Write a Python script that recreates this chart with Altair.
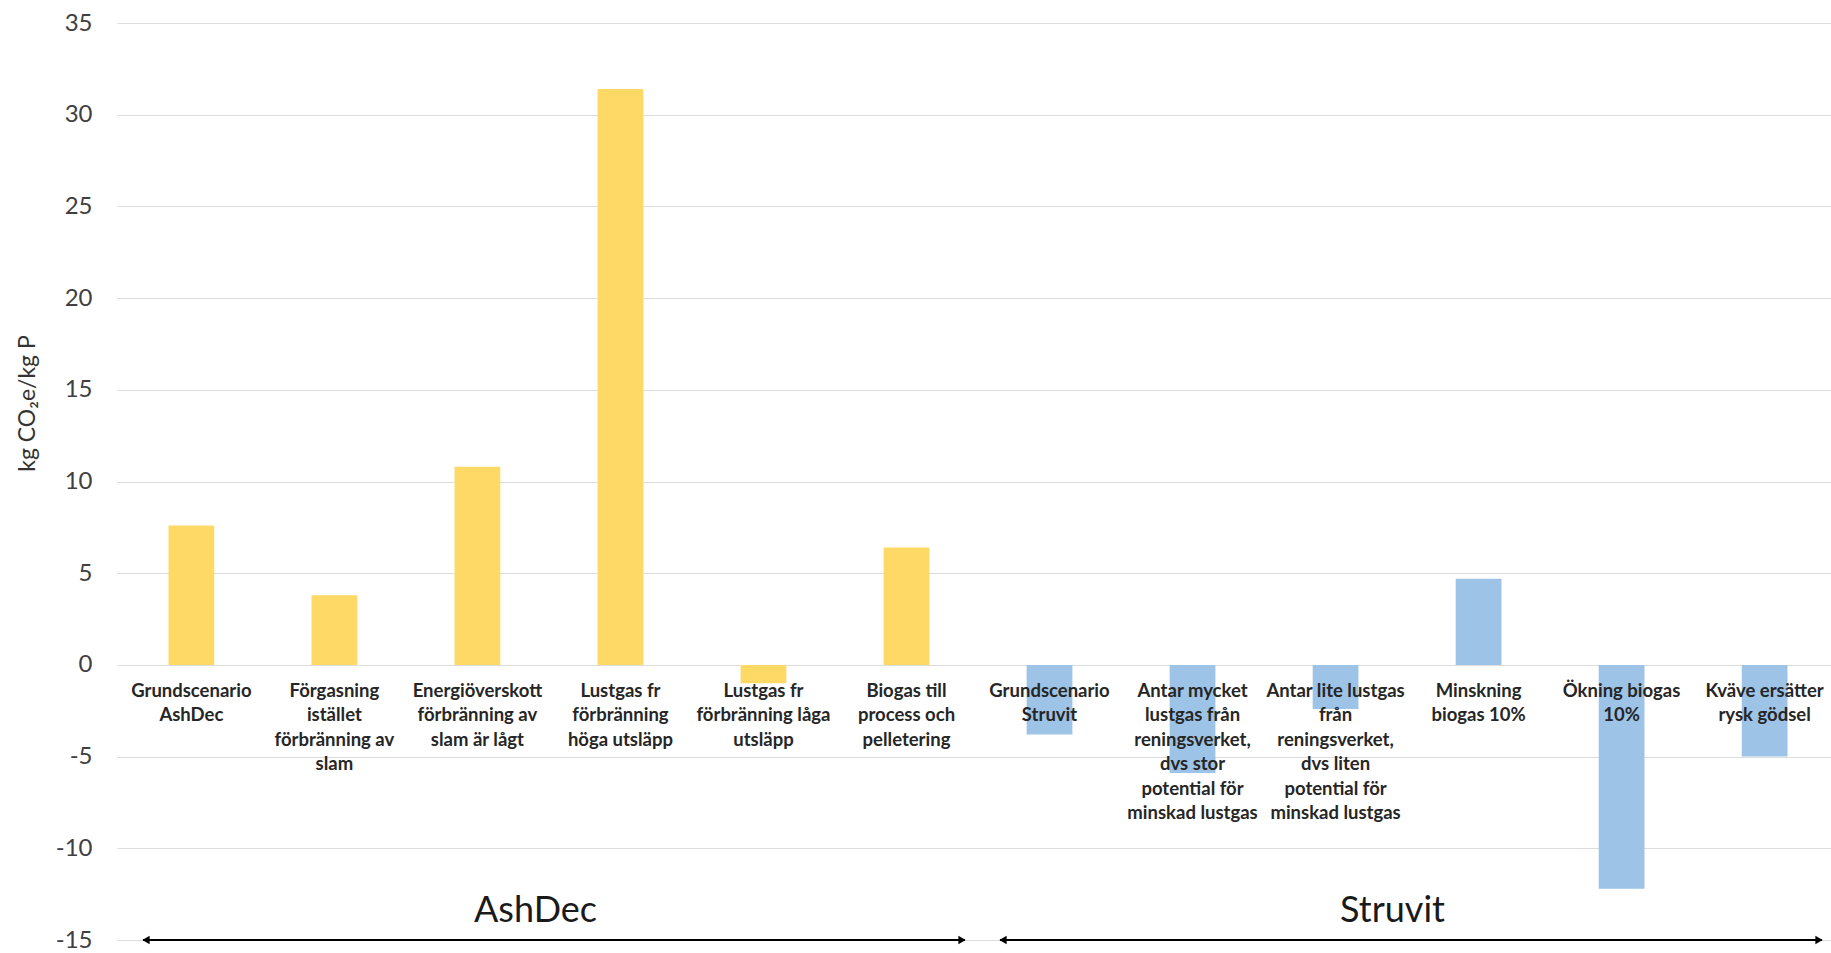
import altair as alt
import pandas as pd

labels = [
    "Grundscenario\nAshDec",
    "Förgasning\nistället\nförbränning av\nslam",
    "Energiöverskott\nförbränning av\nslam är lågt",
    "Lustgas fr\nförbränning\nhöga utsläpp",
    "Lustgas fr\nförbränning låga\nutsläpp",
    "Biogas till\nprocess och\npelletering",
    "Grundscenario\nStruvit",
    "Antar mycket\nlustgas från\nreningsverket,\ndvs stor\npotential för\nminskad lustgas",
    "Antar lite lustgas\nfrån\nreningsverket,\ndvs liten\npotential för\nminskad lustgas",
    "Minskning\nbiogas 10%",
    "Ökning biogas\n10%",
    "Kväve ersätter\nrysk gödsel",
]
values = [7.6, 3.8, 10.8, 31.4, -1.0, 6.4, -3.8, -5.9, -2.4, 4.7, -12.2, -5.0]
groups = ["AshDec"] * 6 + ["Struvit"] * 6

group_names = ["AshDec", "Struvit"]
group_start = [0, 6]
group_end = [6, 12]
colors = ["#FFD966", "#9DC3E6"]

df = pd.DataFrame({"label": labels, "value": values, "group": groups})
gdf = pd.DataFrame({"group": group_names, "start": group_start, "end": group_end})

FONT = "Lato"

yaxis = alt.Axis(
    values=list(range(-15, 36, 5)),
    labelExpr="datum.value + ''",
    title="kg CO₂e/kg P",
    titleFont=FONT,
    titleFontSize=23,
    titleFontWeight="normal",
    titleColor="#333333",
    titleAngle=-90,
    titleX=-90,
    titleY=380,
    titleAlign="center",
    titleBaseline="middle",
    labelFont=FONT,
    labelFontSize=24,
    labelColor="#404040",
    labelPadding=25,
    ticks=False,
    domain=False,
    grid=True,
    gridColor="#DCDCDC",
    gridWidth=1,
)

yscale = alt.Scale(domain=[-15, 35], nice=False, zero=False)

bars = alt.Chart(df).mark_bar().encode(
    x=alt.X("label:N", sort=None, axis=None,
            scale=alt.Scale(paddingInner=0.68, paddingOuter=0.36, range=[0, 1722])),
    y=alt.Y("value:Q", scale=yscale, axis=yaxis),
    color=alt.Color("group:N", scale=alt.Scale(domain=group_names, range=colors), legend=None),
)

cat_text = alt.Chart(df).mark_text(
    font=FONT, fontSize=18.5, fontWeight="bold", color="#262626",
    lineBreak="\n", lineHeight=24.5, baseline="top", align="center", dy=17,
).encode(
    x=alt.X("label:N", sort=None),
    y=alt.datum(0),
    text="label:N",
)

main = alt.layer(bars, cat_text)

qscale = alt.Scale(domain=[0, 12], nice=False, zero=False)

rule = alt.Chart(gdf).mark_rule(color="black", strokeWidth=2, xOffset=26, x2Offset=-9).encode(
    x=alt.X("start:Q", scale=qscale, axis=None), x2="end:Q", y=alt.datum(-15),
)
head_l = alt.Chart(gdf).mark_point(shape="triangle-left", filled=True, color="black",
                                   size=70, opacity=1, xOffset=29).encode(
    x=alt.X("start:Q", scale=qscale, axis=None), y=alt.datum(-15),
)
head_r = alt.Chart(gdf).mark_point(shape="triangle-right", filled=True, color="black",
                                   size=70, opacity=1, xOffset=-12).encode(
    x=alt.X("end:Q", scale=qscale, axis=None),
    y=alt.datum(-15),
)
gtext = alt.Chart(gdf).transform_calculate(mid="(datum.start + datum.end) / 2").mark_text(
    font=FONT, fontSize=36, color="#1a1a1a", baseline="middle", align="center", dx=-10,
).encode(
    x=alt.X("mid:Q", scale=qscale, axis=None),
    y=alt.datum(-13.4),
    text="group:N",
)

arrows = alt.layer(rule, head_l, head_r, gtext)

chart = alt.layer(main, arrows).resolve_scale(x="independent").properties(
    width=1714,
    height=917,
    autosize=alt.AutoSizeParams(type="none"),
    padding={"left": 117, "top": 23, "right": 0, "bottom": 13},
    background="white",
).configure_view(stroke=None)

chart.save("out.html", embed_options={"renderer": "svg", "actions": False})
